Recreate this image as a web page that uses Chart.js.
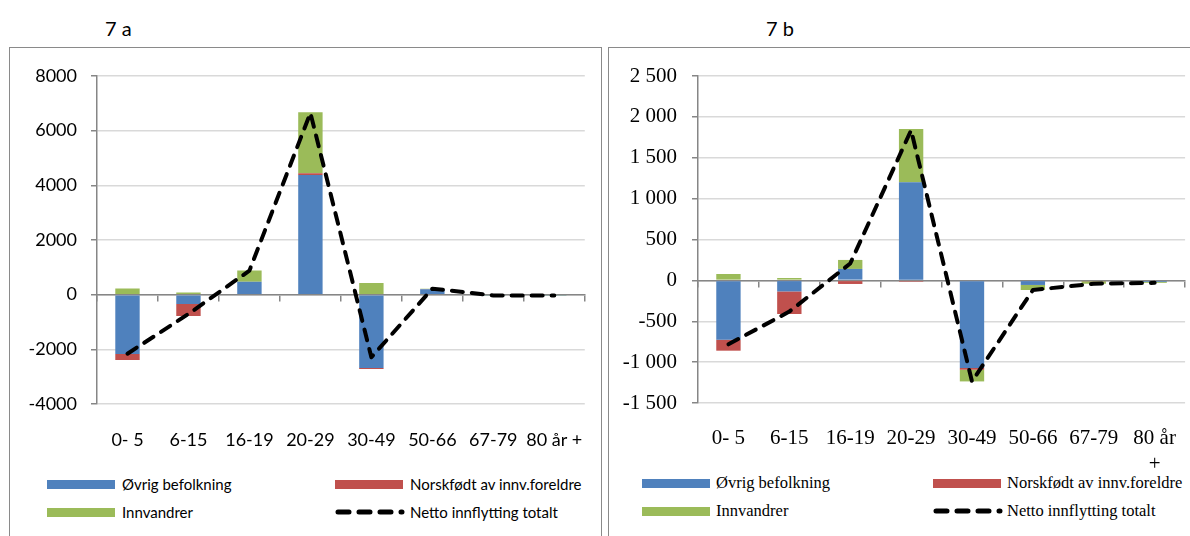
<!DOCTYPE html>
<html>
<head>
<meta charset="utf-8">
<script src="https://cdn.jsdelivr.net/npm/chart.js@4.4.1/dist/chart.umd.min.js"></script>
<style>
  body { margin: 0; background: #fff; width: 1190px; height: 536px; overflow: hidden; position: relative; }
  .panel { position: absolute; top: 47px; height: 520px; border: 1.5px solid #8a8a8a; box-sizing: border-box; }
  .title { position: absolute; top: 16px; font-family: Lato, sans-serif; font-size: 20px; color: #000; }
  canvas { position: absolute; top: 0; }
  .legend-item { position: absolute; white-space: nowrap; color: #000; }
  .legend-item .swatch { position: absolute; left: 0; top: 50%; margin-top: -4.5px; height: 9px; }
  .legend-item svg { position: absolute; left: 0; top: 50%; margin-top: -4px; }
</style>
</head>
<body>

<div class="panel" style="left:9px; width:593px;"></div>
<div class="panel" style="left:608px; width:600px;"></div>

<div class="title" style="left:105px;">7 a</div>
<div class="title" style="left:766px;">7 b</div>

<canvas id="chartA" width="600" height="470" style="left:0px;"></canvas>
<canvas id="chartB" width="590" height="470" style="left:600px;"></canvas>

<div id="legendA"></div>
<div id="legendB"></div>

<script>
// age groups
const ageGroups = ['0- 5', '6-15', '16-19', '20-29', '30-49', '50-66', '67-79', '80 år +']
const ageGroupsB = ['0- 5', '6-15', '16-19', '20-29', '30-49', '50-66', '67-79', ['80 år', '+']]

const seriesNames = ['Øvrig befolkning', 'Norskfødt av innv.foreldre', 'Innvandrer', 'Netto innflytting totalt']

// 7 a
const ovrigA = [-2170, -340, 475, 4380, -2680, 195, -25, -25]
const norskA = [-220, -440, 0, 60, -40, 15, 0, 0]
const innvA = [230, 75, 405, 2230, 430, 10, -5, -5]
const nettoA = [-2160, -705, 880, 6650, -2290, 220, -30, -30]
const ticksA = [-4000, -2000, 0, 2000, 4000, 6000, 8000]

// 7 b
const ovrigB = [-726, -135, 140, 1200, -1072, -56, -8, -18]
const norskB = [-134, -276, -44, -16, -21, 0, -3, 0]
const innvB = [78, 29, 110, 653, -143, -62, -30, -12]
const nettoB = [-782, -382, 206, 1837, -1236, -118, -41, -30]
const ticksB = [-1500, -1000, -500, 0, 500, 1000, 1500, 2000, 2500]

const colors = ['#4f81bd', '#c0504d', '#9bbb59', '#000000']
const gridColor = '#d9d9d9'
const axisColor = '#868686'

function spaced(v) {
    const s = String(Math.abs(v)).replace(/\B(?=(\d{3})+(?!\d))/g, ' ')
    return (v < 0 ? '-' : '') + s
}

function makeChart(canvasId, labels, ovrig, norsk, innv, netto, yTicks, cfg) {
    const ctx = document.getElementById(canvasId)
    const tickFont = { family: cfg.font, size: cfg.tickSize, lineHeight: cfg.lineHeight }
    return new Chart(ctx, {
        type: 'bar',
        data: {
            labels: labels,
            datasets: [
                { label: seriesNames[0], data: ovrig, backgroundColor: colors[0], order: 1 },
                { label: seriesNames[1], data: norsk, backgroundColor: colors[1], order: 1 },
                { label: seriesNames[2], data: innv, backgroundColor: colors[2], order: 1 },
                {
                    type: 'line',
                    label: seriesNames[3],
                    data: netto,
                    stack: 'netto',
                    order: 0,
                    borderColor: colors[3],
                    borderWidth: 4,
                    borderDash: [11, 9],
                    borderCapStyle: 'round',
                    borderJoinStyle: 'round',
                    tension: 0,
                    pointRadius: 0,
                    fill: false
                }
            ]
        },
        options: {
            responsive: false,
            animation: false,
            devicePixelRatio: 1,
            datasets: { bar: { categoryPercentage: 1, barPercentage: 0.4 } },
            layout: { padding: cfg.padding },
            plugins: { legend: { display: false }, tooltip: { enabled: false } },
            scales: {
                x: {
                    stacked: true,
                    position: 'bottom',
                    grid: { display: false },
                    border: { display: false },
                    ticks: { color: '#000', font: tickFont, padding: cfg.xPad, maxRotation: 0, autoSkip: false },
                    // labels get clipped to the axis box, so leave room for the 2-line label
                    afterFit: (scale) => { scale.height = cfg.xHeight }
                },
                xZero: {
                    type: 'category',
                    labels: labels,
                    position: { y: 0 },
                    offset: true,
                    grid: { offset: true, drawOnChartArea: false, tickLength: 6, color: axisColor, lineWidth: 1.5 },
                    border: { color: axisColor, width: 1.5 },
                    ticks: { display: false }
                },
                y: {
                    stacked: true,
                    min: yTicks[0],
                    max: yTicks[yTicks.length - 1],
                    afterBuildTicks: (scale) => { scale.ticks = yTicks.map(v => ({ value: v })) },
                    grid: { color: gridColor, lineWidth: 1.5, tickLength: 6, tickColor: axisColor },
                    border: { color: axisColor, width: 1.5 },
                    ticks: { color: '#000', font: tickFont, padding: cfg.yPad, callback: cfg.fmt },
                    afterFit: (scale) => { scale.width = cfg.yWidth }
                }
            }
        }
    })
}

function buildLegend(id, chart, pos) {
    const box = document.getElementById(id)
    const ds = chart.data.datasets
    ds.forEach((d, i) => {
        const col = i % 2
        const row = Math.floor(i / 2)
        const item = document.createElement('div')
        item.className = 'legend-item'
        item.style.left = pos.x[col] + 'px'
        item.style.top = (pos.y[row] - 10) + 'px'
        item.style.height = '20px'
        item.style.lineHeight = '20px'
        item.style.fontFamily = pos.font
        item.style.fontSize = pos.size + 'px'
        item.style.paddingLeft = pos.textGap + 'px'
        if (d.type === 'line') {
            item.innerHTML = '<svg width="70" height="8"><line x1="3" y1="4" x2="67" y2="4" stroke="#000" stroke-width="5" stroke-linecap="round" stroke-dasharray="11 10"/></svg>'
        } else {
            item.innerHTML = '<span class="swatch" style="width:68px;background:' + d.backgroundColor + '"></span>'
        }
        const t = document.createElement('span')
        t.textContent = d.label
        item.appendChild(t)
        box.appendChild(item)
    })
}

const chartA = makeChart('chartA', ageGroups, ovrigA, norskA, innvA, nettoA, ticksA, {
    font: 'Lato', tickSize: 18, lineHeight: 1.2, xPad: 17, yPad: 14, yWidth: 97, xHeight: 50,
    padding: { left: 0, right: 11, top: 76, bottom: 16 },
    fmt: (v) => String(v)
})

const chartB = makeChart('chartB', ageGroupsB, ovrigB, norskB, innvB, nettoB, ticksB, {
    font: 'Liberation Serif', tickSize: 21, lineHeight: 1.25, xPad: 14, yPad: 15, yWidth: 98, xHeight: 66,
    padding: { left: 0, right: 1, top: 76, bottom: 1 },
    fmt: (v) => spaced(v)
})

buildLegend('legendA', chartA, { x: [47, 335], y: [484, 512], font: 'Lato', size: 15, textGap: 75 })
buildLegend('legendB', chartB, { x: [642, 933], y: [483, 511], font: 'Liberation Serif', size: 16.5, textGap: 74 })
</script>
</body>
</html>
